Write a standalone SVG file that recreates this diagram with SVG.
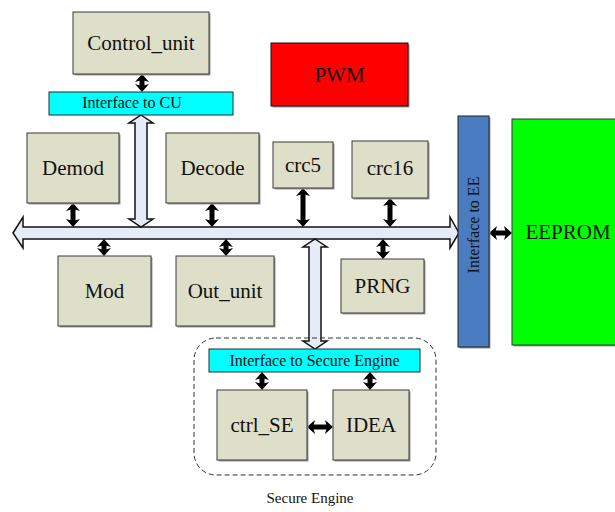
<svg xmlns="http://www.w3.org/2000/svg" width="615" height="512" viewBox="0 0 615 512">
  <style>
    .blk { fill: #DEDFC9; stroke: #3a3a3a; stroke-width: 1; }
    .shd { fill: #9a9a9a; }
    .ifc { fill: #00FFFF; stroke: #2a2a2a; stroke-width: 1; }
    .lbl { font-family: "Liberation Serif", "Times New Roman", serif; font-size: 21px; fill: #111; text-anchor: middle; }
    .ilbl { font-family: "Liberation Serif", "Times New Roman", serif; font-size: 16px; fill: #111; text-anchor: middle; }
    .bus { fill: #E6ECF7; stroke: #111; stroke-width: 1.5; stroke-linejoin: miter; }
    .link { stroke: #000; stroke-width: 5; fill: none; marker-start: url(#tip); marker-end: url(#tip); }
  </style>
  <defs>
    <marker id="tip" viewBox="0 0 8 14" refX="3" refY="7" markerWidth="8" markerHeight="14" markerUnits="userSpaceOnUse" orient="auto-start-reverse">
      <path d="M0,0 L8,7 L0,14 L2,7 z" fill="#000"/>
    </marker>
  </defs>

  <!-- system bus and its branches -->
  <g id="connectors">
    <!-- main horizontal bus -->
    <path class="bus" d="M13,233 L23,217 L23,227 L450,227 L450,217 L459,233 L450,248 L450,239 L23,239 L23,248 Z"/>
    <!-- bus up to the control unit interface -->
    <path class="bus" d="M141,115 L153,123 L147,123 L147,219 L153,219 L141,227 L129,219 L135,219 L135,123 L129,123 Z"/>
    <!-- bus down to the secure engine interface -->
    <path class="bus" d="M315,239 L327,247 L321,247 L321,341 L327,341 L315,349 L303,341 L309,341 L309,247 L303,247 Z"/>

    <!-- block links -->
    <line class="link" x1="142" y1="79" x2="142" y2="87"/>
    <line class="link" x1="73" y1="208" x2="73" y2="222"/>
    <line class="link" x1="212" y1="208" x2="212" y2="222"/>
    <line class="link" x1="303" y1="193" x2="303" y2="222"/>
    <line class="link" x1="390" y1="203" x2="390" y2="222"/>
    <line class="link" x1="104" y1="244" x2="104" y2="251"/>
    <line class="link" x1="226" y1="244" x2="226" y2="251"/>
    <line class="link" x1="383" y1="244" x2="383" y2="254"/>
    <line class="link" x1="494" y1="233" x2="507" y2="233"/>
    <line class="link" x1="262" y1="377" x2="262" y2="385"/>
    <line class="link" x1="370" y1="377" x2="370" y2="385"/>
    <line class="link" x1="312" y1="427" x2="328" y2="427"/>
  </g>

  <g id="control_unit">
    <rect class="shd" x="74.5" y="13.5" width="136" height="62"/>
    <rect class="blk" x="73" y="12" width="136" height="62"/>
    <text class="lbl" x="141" y="50">Control_unit</text>
  </g>

  <g id="interface_cu">
    <rect class="ifc" x="49" y="92" width="184" height="23"/>
    <text class="ilbl" x="132" y="108">Interface to CU</text>
  </g>

  <g id="pwm">
    <rect class="shd" x="272.5" y="44.5" width="137" height="63"/>
    <rect x="271" y="43" width="137" height="63" fill="#FF0000" stroke="#111" stroke-width="1"/>
    <text class="lbl" x="339.5" y="82">PWM</text>
  </g>

  <g id="demod">
    <rect class="shd" x="28.5" y="134.5" width="92" height="70"/>
    <rect class="blk" x="27" y="133" width="92" height="70"/>
    <text class="lbl" x="73" y="175">Demod</text>
  </g>

  <g id="decode">
    <rect class="shd" x="167.5" y="134.5" width="93" height="70"/>
    <rect class="blk" x="166" y="133" width="93" height="70"/>
    <text class="lbl" x="212.5" y="175">Decode</text>
  </g>

  <g id="crc5">
    <rect class="shd" x="274.5" y="143.5" width="60" height="46"/>
    <rect class="blk" x="273" y="142" width="60" height="46"/>
    <text class="lbl" x="303" y="172">crc5</text>
  </g>

  <g id="crc16">
    <rect class="shd" x="353.5" y="142.5" width="76" height="57"/>
    <rect class="blk" x="352" y="141" width="76" height="57"/>
    <text class="lbl" x="390" y="175">crc16</text>
  </g>

  <g id="mod">
    <rect class="shd" x="59.5" y="257.5" width="93" height="70"/>
    <rect class="blk" x="58" y="256" width="93" height="70"/>
    <text class="lbl" x="104.5" y="298">Mod</text>
  </g>

  <g id="out_unit">
    <rect class="shd" x="177.5" y="257.5" width="98" height="70"/>
    <rect class="blk" x="176" y="256" width="98" height="70"/>
    <text class="lbl" x="225" y="298">Out_unit</text>
  </g>

  <g id="prng">
    <rect class="shd" x="342.5" y="260.5" width="83" height="54"/>
    <rect class="blk" x="341" y="259" width="83" height="54"/>
    <text class="lbl" x="382.5" y="293">PRNG</text>
  </g>

  <g id="interface_ee">
    <rect class="shd" x="459.5" y="117.5" width="31" height="231"/>
    <rect x="458" y="116" width="31" height="231" fill="#4A7CC1" stroke="#222" stroke-width="1"/>
    <text class="ilbl" transform="translate(479 225) rotate(-90)">Interface to EE</text>
  </g>

  <g id="eeprom">
    <rect class="shd" x="513.5" y="120.5" width="110" height="226"/>
    <rect x="512" y="119" width="110" height="226" fill="#00FF00" stroke="#333" stroke-width="1"/>
    <text class="lbl" x="568" y="239">EEPROM</text>
  </g>

  <g id="secure_engine">
    <rect x="194" y="338" width="242" height="137" rx="22" ry="22" fill="none" stroke="#333" stroke-width="1" stroke-dasharray="5 3"/>
    <text x="310" y="503" font-family="Liberation Serif, Times New Roman, serif" font-size="15" fill="#111" text-anchor="middle">Secure Engine</text>
  </g>

  <g id="interface_se">
    <rect class="ifc" x="209" y="349" width="211" height="23"/>
    <text class="ilbl" x="314.5" y="366">Interface to Secure Engine</text>
  </g>

  <g id="ctrl_se">
    <rect class="shd" x="218.5" y="391.5" width="90" height="70"/>
    <rect class="blk" x="217" y="390" width="90" height="70"/>
    <text class="lbl" x="262" y="432">ctrl_SE</text>
  </g>

  <g id="idea">
    <rect class="shd" x="334.5" y="391.5" width="76" height="70"/>
    <rect class="blk" x="333" y="390" width="76" height="70"/>
    <text class="lbl" x="371" y="432">IDEA</text>
  </g>
</svg>
